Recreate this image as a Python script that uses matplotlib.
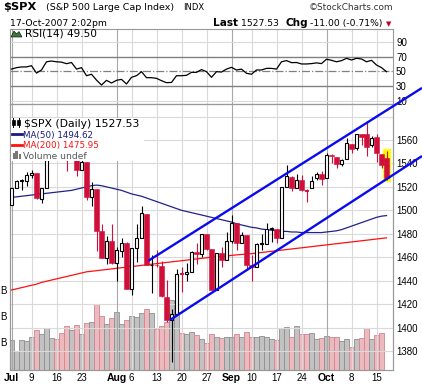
import numpy as np
import pandas as pd
import matplotlib
matplotlib.use('Agg')
import matplotlib.pyplot as plt
from matplotlib.lines import Line2D
from matplotlib.patches import Rectangle, Polygon

W, H = 422, 385

# trading days Jul 2 - Oct 17 2007 (Jul 4 and Labor Day closed)
days = pd.bdate_range('2007-07-02', '2007-10-17')
days = days[~days.isin(pd.to_datetime(['2007-07-04', '2007-09-03']))]

prev_close = 1503.35
opens = [1504.66, 1519.12, 1524.86, 1524.96, 1530.43, 1531.85, 1509.93, 1518.74, 1547.68, 1552.50,
         1549.52, 1549.20, 1546.13, 1553.19, 1534.06, 1541.57, 1511.03, 1518.09, 1482.44, 1458.93,
         1473.90, 1455.18, 1465.46, 1472.18, 1433.04, 1467.62, 1476.22, 1497.21, 1453.09, 1453.42,
         1452.87, 1426.15, 1406.64, 1411.26, 1445.55, 1445.55, 1447.03, 1464.05, 1462.34, 1479.36,
         1466.72, 1432.01, 1463.67, 1457.61, 1473.96, 1488.76, 1472.03, 1478.55, 1453.50, 1451.69,
         1471.10, 1471.47, 1483.95, 1484.24, 1476.63, 1519.75, 1528.69, 1518.75, 1525.75, 1516.34,
         1518.62, 1527.32, 1531.24, 1527.29, 1546.96, 1545.80, 1539.91, 1543.84, 1556.51, 1553.18,
         1564.98, 1564.72, 1555.41, 1562.25, 1547.81, 1544.44]
highs = [1519.45, 1526.01, 1526.57, 1532.40, 1534.26, 1531.85, 1519.34, 1547.92, 1555.10, 1555.90,
         1555.32, 1549.20, 1555.20, 1553.19, 1547.23, 1541.57, 1524.31, 1518.09, 1488.53, 1477.88,
         1488.30, 1468.38, 1476.43, 1473.23, 1467.67, 1488.30, 1503.89, 1497.21, 1462.02, 1466.29,
         1456.74, 1440.78, 1415.47, 1450.33, 1451.75, 1455.32, 1464.86, 1472.06, 1479.40, 1479.36,
         1466.72, 1463.76, 1468.43, 1481.47, 1496.40, 1488.76, 1481.49, 1478.55, 1462.25, 1472.48,
         1479.50, 1489.58, 1485.99, 1484.24, 1519.89, 1538.74, 1529.14, 1530.89, 1530.18, 1518.27,
         1529.39, 1532.46, 1533.74, 1549.02, 1548.01, 1545.84, 1544.02, 1561.91, 1556.51, 1565.26,
         1565.42, 1576.09, 1563.03, 1564.74, 1547.81, 1550.66]
lows = [1504.66, 1519.12, 1517.72, 1520.47, 1527.45, 1510.01, 1506.10, 1518.74, 1544.85, 1546.69,
        1547.74, 1533.67, 1546.13, 1529.20, 1534.06, 1508.62, 1503.73, 1465.30, 1458.95, 1454.32,
        1454.25, 1439.59, 1460.58, 1432.80, 1427.39, 1455.80, 1476.22, 1453.09, 1429.74, 1451.54,
        1426.20, 1404.36, 1370.60, 1411.26, 1430.54, 1439.76, 1447.03, 1453.88, 1460.54, 1465.98,
        1432.01, 1432.01, 1451.25, 1457.61, 1472.15, 1466.34, 1472.03, 1449.07, 1439.29, 1451.69,
        1465.75, 1471.47, 1473.18, 1471.82, 1476.63, 1519.75, 1516.42, 1518.75, 1516.15, 1507.13,
        1518.62, 1525.81, 1521.99, 1527.25, 1540.37, 1536.34, 1537.63, 1543.84, 1549.00, 1551.82,
        1555.46, 1546.72, 1554.09, 1540.81, 1536.29, 1526.01]
closes = [1519.43, 1524.87, 1525.40, 1530.44, 1531.85, 1510.12, 1518.76, 1547.70, 1552.50, 1549.52,
          1549.37, 1546.17, 1553.08, 1534.10, 1541.57, 1511.04, 1518.09, 1482.66, 1458.95, 1473.91,
          1455.27, 1465.81, 1472.20, 1433.06, 1467.67, 1476.71, 1497.49, 1453.09, 1453.64, 1452.92,
          1426.54, 1406.70, 1411.27, 1445.94, 1445.55, 1447.12, 1464.07, 1462.50, 1479.37, 1466.79,
          1432.36, 1463.76, 1457.64, 1473.99, 1489.42, 1472.29, 1478.55, 1453.55, 1451.70, 1471.49,
          1471.56, 1483.95, 1484.25, 1476.65, 1519.78, 1529.03, 1518.75, 1525.75, 1517.73, 1517.21,
          1525.42, 1531.38, 1526.75, 1547.04, 1546.63, 1539.59, 1542.84, 1557.59, 1552.58, 1565.15,
          1562.47, 1554.41, 1561.80, 1548.71, 1538.53, 1527.53]

# volume in billions (today undefined)
volume = [1.06, 0.64, 1.06, 1.03, 1.17, 1.44, 1.30, 1.52, 1.14, 1.10,
          1.33, 1.61, 1.45, 1.64, 1.30, 1.71, 1.75, 2.46, 2.00, 1.68,
          1.90, 2.15, 1.68, 1.84, 1.99, 1.95, 2.11, 2.25, 2.11, 1.50,
          1.59, 1.76, 2.61, 2.15, 1.32, 1.29, 1.37, 1.27, 1.09, 0.95,
          1.28, 1.19, 1.13, 1.17, 1.19, 1.28, 1.17, 1.36, 1.19, 1.19,
          1.23, 1.19, 1.10, 1.06, 1.52, 1.56, 1.19, 1.62, 1.28, 1.28,
          1.32, 1.10, 1.13, 1.23, 1.17, 1.17, 1.03, 1.11, 0.78, 1.11,
          1.13, 1.52, 1.09, 1.25, 1.32]

rsi = [53.0, 55.0, 55.9, 56.0, 57.6, 47.6, 51.8, 63.0, 64.0, 63.0,
       62.5, 60.4, 62.0, 53.0, 55.0, 44.0, 46.0, 38.0, 31.3, 37.7,
       34.0, 37.7, 39.0, 32.7, 41.8, 44.0, 49.5, 41.3, 41.3, 40.4,
       37.2, 34.5, 34.8, 44.0, 44.0, 44.5, 48.6, 48.6, 52.3, 49.5,
       41.8, 49.5, 49.0, 53.0, 55.4, 51.8, 53.0, 47.3, 46.0, 51.8,
       51.8, 54.0, 54.0, 53.0, 63.0, 64.6, 61.8, 62.0, 60.0, 60.0,
       60.5, 61.5, 60.5, 66.5, 65.0, 63.0, 64.5, 67.7, 65.4, 67.7,
       66.8, 63.0, 65.0, 58.6, 55.0, 49.5]

ma50 = [1511.0, 1511.5, 1512.0, 1512.5, 1513.0, 1513.5, 1514.0, 1514.5, 1515.0, 1515.5,
        1516.0, 1516.5, 1517.0, 1518.0, 1519.0, 1520.0, 1521.0, 1521.5, 1521.0, 1520.0,
        1519.0, 1518.0, 1517.0, 1515.5, 1514.0, 1513.0, 1512.0, 1510.5, 1509.0, 1507.5,
        1506.0, 1504.5, 1503.0, 1501.5, 1500.0, 1499.0, 1498.0, 1497.0, 1496.0, 1495.0,
        1494.0, 1493.0, 1492.0, 1491.0, 1490.0, 1488.5, 1487.5, 1486.5, 1485.5, 1485.0,
        1484.0, 1483.5, 1483.0, 1482.5, 1482.0, 1482.0, 1481.5, 1481.5, 1481.0, 1481.0,
        1481.0, 1481.0, 1481.0, 1481.5, 1482.0, 1482.5, 1483.5, 1485.0, 1486.5, 1488.0,
        1489.5, 1491.0, 1492.5, 1494.0, 1495.0, 1495.5]
ma200 = [1432.0, 1433.0, 1434.0, 1435.0, 1436.0, 1437.0, 1438.5, 1439.5, 1440.5, 1441.5,
         1442.5, 1443.5, 1444.5, 1445.5, 1446.5, 1447.5, 1448.0, 1448.5, 1449.0, 1449.5,
         1450.0, 1450.5, 1451.0, 1451.5, 1452.0, 1452.5, 1453.0, 1453.5, 1454.0, 1454.5,
         1455.0, 1455.5, 1456.0, 1456.5, 1457.0, 1457.5, 1458.0, 1458.5, 1459.0, 1459.5,
         1460.0, 1460.3, 1460.7, 1461.0, 1461.5, 1462.0, 1462.3, 1462.7, 1463.0, 1463.5,
         1464.0, 1464.5, 1465.0, 1465.5, 1466.0, 1466.5, 1467.0, 1467.5, 1468.0, 1468.5,
         1469.0, 1469.5, 1470.0, 1470.5, 1471.0, 1471.5, 1472.0, 1472.5, 1473.0, 1473.5,
         1474.0, 1474.5, 1475.0, 1475.5, 1476.0, 1476.5]

# values printed in the legend
rsi_last = 49.50
ma50_last = 1494.62
ma200_last = 1475.95
last_price = 1527.53
chg = -11.00
chg_pct = -0.71

# hand drawn channel: (day index, price)
upper_channel = [(27.4, 1457.0), (82.1, 1604.4)]
lower_channel = [(31.7, 1406.4), (82.1, 1546.3)]

price_ticks = [1380, 1400, 1420, 1440, 1460, 1480, 1500, 1520, 1540, 1560]
rsi_ticks = [10, 30, 50, 70, 90]
vol_ticks = [1, 2, 3]
tick_days = ['2007-07-02', '2007-07-09', '2007-07-16', '2007-07-23', '2007-08-01', '2007-08-06',
             '2007-08-13', '2007-08-20', '2007-08-27', '2007-09-04', '2007-09-10', '2007-09-17',
             '2007-09-24', '2007-10-01', '2007-10-08', '2007-10-15']
tick_text = ['Jul', '9', '16', '23', 'Aug', '6', '13', '20', '27', 'Sep', '10', '17', '24', 'Oct', '8', '15']

RED = '#D0103A'
GRID = '#DADADA'
MONTHGRID = '#A8A8A8'


def fx(px):
    return px / W


def fy(py):
    return 1 - py / H


x = np.arange(len(closes))
tick_idx = [days.get_loc(pd.Timestamp(d)) for d in tick_days]
prevs = [prev_close] + closes[:-1]
xlim = (-0.3, 76.24)

fig = plt.figure(figsize=(W / 100, H / 100), dpi=100)
fig.patch.set_facecolor('white')

# ---- RSI panel
ax_r = fig.add_axes([fx(10), fy(104), fx(392.7) - fx(10), fy(29) - fy(104)])
ax_r.set_xlim(*xlim)
ax_r.set_ylim(5.4, 107.7)
for i, t in zip(tick_idx, tick_text):
    ax_r.axvline(i, color=MONTHGRID if t.isalpha() else GRID, lw=0.8, zorder=0)
for lv in [10, 90]:
    ax_r.axhline(lv, color=GRID, lw=0.8, zorder=0)
for lv in [30, 70]:
    ax_r.axhline(lv, color='#808080', lw=1.0, zorder=1)
ax_r.axhline(50, color='#808080', lw=0.9, ls='-.', zorder=1)
ax_r.plot(x, rsi, color='black', lw=0.9, zorder=3)
ax_r.set_xticks([])
ax_r.yaxis.tick_right()
ax_r.set_yticks(rsi_ticks)
ax_r.tick_params(axis='y', length=0, pad=2.4, labelsize=7)
for lab in ax_r.get_yticklabels():
    lab.set_family('Liberation Sans')
for sp in ax_r.spines.values():
    sp.set_color('#999999')
    sp.set_linewidth(0.8)

# ---- price panel with volume overlay
ax = fig.add_axes([fx(10), fy(370), fx(392.7) - fx(10), fy(104) - fy(370)])
axv = ax.twinx()
ax.set_zorder(axv.get_zorder() + 1)
ax.patch.set_visible(False)
axv.patch.set_facecolor('white')

vol_cols = ['#EBB9BE' if closes[i] < prevs[i] else '#C2C2C2' for i in range(len(volume))]
vol_edges = ['#D08590' if closes[i] < prevs[i] else '#8E8E8E' for i in range(len(volume))]
axv.bar(x[:len(volume)], np.array(volume) + 0.1, bottom=-0.1, width=1.0,
        color=vol_cols, edgecolor=vol_edges, lw=0.6)
axv.set_ylim(-0.1, 10.19)
axv.set_xlim(*xlim)
axv.yaxis.tick_left()
axv.set_yticks(vol_ticks)
axv.set_yticklabels(['B' for v in vol_ticks])
axv.tick_params(axis='y', length=0, pad=2.6, labelsize=7)
for lab in axv.get_yticklabels():
    lab.set_family('Liberation Sans')

ax.set_xlim(*xlim)
ax.set_ylim(1363.75, 1590.7)
for p in price_ticks + [1580]:
    ax.axhline(p, color=GRID, lw=0.8, zorder=0)
for i, t in zip(tick_idx, tick_text):
    ax.axvline(i, color=MONTHGRID if t.isalpha() else GRID, lw=0.8, zorder=0)

ax.plot(x, ma200, color='#FF1010', lw=0.9, zorder=2)
ax.plot(x, ma50, color='#22228A', lw=0.9, zorder=2)

# highlight today's bar
last = len(closes) - 1
ax.add_patch(Rectangle((last - 0.8, lows[last] - 1.5), 1.6, highs[last] - lows[last] + 3,
                       facecolor='#FFFF00', edgecolor='none', zorder=2.5))

for i in x:
    o, h, l, c = opens[i], highs[i], lows[i], closes[i]
    col = RED if c < prevs[i] else 'black'
    ax.vlines(i, l, h, color=col, lw=0.8, zorder=3)
    lo, hi = min(o, c), max(o, c)
    if c < o:
        ax.bar(i, max(hi - lo, 0.6), bottom=lo, width=0.85, color=col, edgecolor=col, lw=0.4, zorder=4)
    else:
        ax.bar(i, max(hi - lo, 0.6), bottom=lo, width=0.7, facecolor='white', edgecolor=col, lw=0.8, zorder=4)

for ch in (upper_channel, lower_channel):
    ax.plot([ch[0][0], ch[1][0]], [ch[0][1], ch[1][1]], color='#0A0AF0', lw=1.7,
            clip_on=False, zorder=6, solid_capstyle='butt')

ax.yaxis.tick_right()
ax.set_yticks(price_ticks)
ax.tick_params(axis='y', length=0, pad=2.4, labelsize=7)
ax.set_xticks(tick_idx)
ax.set_xticklabels(tick_text)
ax.tick_params(axis='x', length=0, pad=2.2, labelsize=7)
for lab in ax.get_yticklabels():
    lab.set_family('Liberation Sans')
for lab in ax.get_xticklabels():
    lab.set_family('Liberation Sans')
    if lab.get_text().isalpha():
        lab.set_fontweight('bold')
        lab.set_fontsize(7.5)
for a in (ax, axv):
    for sp in a.spines.values():
        sp.set_color('#999999')
        sp.set_linewidth(0.8)

# ---- header
fig.text(fx(3), fy(10), '$SPX', fontsize=8.2, fontweight='bold', family='DejaVu Sans', va='baseline')
fig.text(fx(46), fy(10), '(S&P 500 Large Cap Index)', fontsize=6.8, family='DejaVu Sans', va='baseline')
fig.text(fx(183), fy(10), 'INDX', fontsize=6.0, family='DejaVu Sans', va='baseline')
fig.text(fx(393), fy(10), '\u00a9StockCharts.com', fontsize=6.4, family='DejaVu Sans',
         va='baseline', ha='right', color='#333333')
fig.text(fx(10), fy(26), '17-Oct-2007 2:02pm', fontsize=6.7, family='DejaVu Sans', va='baseline')
fig.text(fx(213), fy(26), 'Last', fontsize=7.6, fontweight='bold', family='DejaVu Sans', va='baseline')
fig.text(fx(241), fy(26), f'{last_price:.2f}', fontsize=6.7, family='DejaVu Sans', va='baseline')
fig.text(fx(286), fy(26), 'Chg', fontsize=7.6, fontweight='bold', family='DejaVu Sans', va='baseline')
fig.text(fx(310), fy(26), f'{chg:.2f} ({chg_pct:.2f}%)', fontsize=6.7,
         family='DejaVu Sans', va='baseline')
fig.text(fx(386), fy(26), '\u25bc', fontsize=5, color='#C0002A', family='DejaVu Sans', va='baseline')

# ---- legends
fig.text(fx(25), fy(37), f'RSI(14) {rsi_last:.2f}', fontsize=7.6, family='DejaVu Sans', va='baseline')
fig.patches.append(Polygon([(fx(11), fy(37)), (fx(14), fy(31)), (fx(16.5), fy(34)), (fx(19), fy(31.5)),
                            (fx(22), fy(37))], closed=True, transform=fig.transFigure,
                           facecolor='#3C7A3C', edgecolor='black', lw=0.4))

# legend block covers the bars behind it
ax.add_patch(Rectangle((fx(10.6), fy(160.5)), fx(144) - fx(10.6), fy(117.5) - fy(160.5),
                       transform=fig.transFigure, facecolor='white', edgecolor='none', zorder=5))
fig.text(fx(24), fy(127), f'$SPX (Daily) {last_price:.2f}', fontsize=7.8, family='DejaVu Sans', va='baseline')
for cx in (13.5, 18.5):
    fig.lines.append(Line2D([fx(cx), fx(cx)], [fy(118), fy(127)], transform=fig.transFigure, color='black', lw=0.7))
    fig.patches.append(Rectangle((fx(cx - 1.5), fy(125)), fx(3), fy(120) - fy(125), transform=fig.transFigure,
                                 facecolor='black', edgecolor='black', lw=0.5))
fig.text(fx(23), fy(137.5), f'MA(50) {ma50_last:.2f}', fontsize=6.3, family='DejaVu Sans',
         va='baseline', color='#1A1A80')
fig.lines.append(Line2D([fx(12), fx(22)], [fy(134), fy(134)], transform=fig.transFigure, color='#1A1A80', lw=2))
fig.text(fx(23), fy(148.5), f'MA(200) {ma200_last:.2f}', fontsize=6.3, family='DejaVu Sans',
         va='baseline', color='#FF1010')
fig.lines.append(Line2D([fx(12), fx(22)], [fy(145), fy(145)], transform=fig.transFigure, color='#FF1010', lw=2))
fig.text(fx(23), fy(159), 'Volume undef', fontsize=6.6, family='DejaVu Sans', va='baseline', color='#555555')
for bx, bh in zip((12.5, 15.5, 18.5), (6, 8, 5)):
    fig.patches.append(Rectangle((fx(bx), fy(159)), fx(2.2), fy(159 - bh) - fy(159), transform=fig.transFigure,
                                 facecolor='#777777', edgecolor='none'))

fig.savefig('out.png', dpi=100, facecolor='white')
